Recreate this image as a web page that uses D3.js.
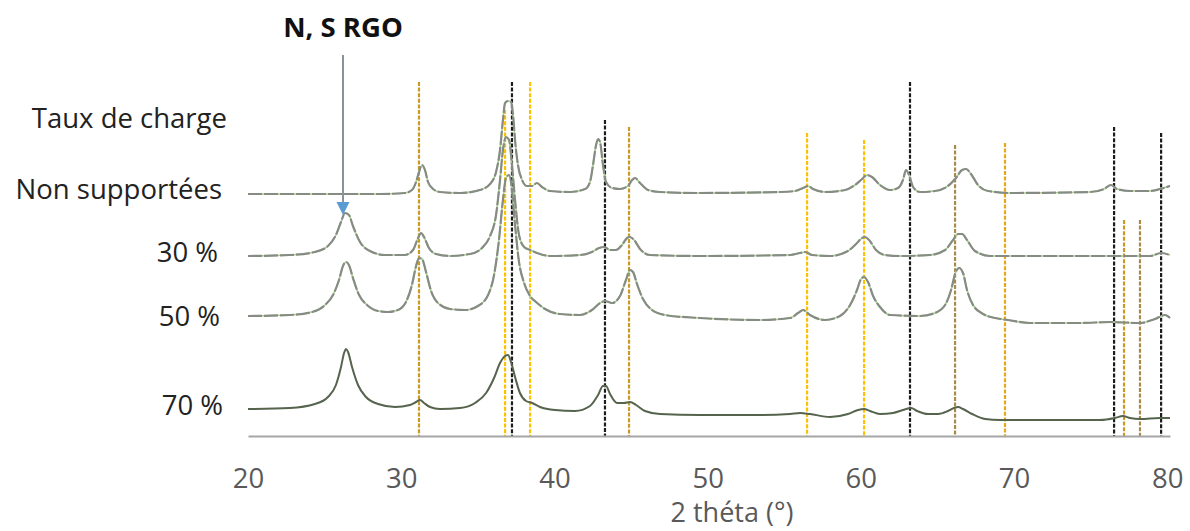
<!DOCTYPE html>
<html>
<head>
<meta charset="utf-8">
<script src="https://cdn.jsdelivr.net/npm/d3@7/dist/d3.min.js"></script>
<style>
  html, body { margin: 0; padding: 0; background: #ffffff; }
  svg { display: block; }
  text { font-family: "Open Sans", "DejaVu Sans", sans-serif; }
</style>
</head>
<body>
<svg id="chart" width="1190" height="531"></svg>
<script>
// ---------------- DATA ----------------
// x-axis tick labels (2 theta, degrees)
const xTicks = [20, 30, 40, 50, 60, 70, 80];

// Series: [2theta (deg), intensity (a.u., stacked offsets)]
const nonSupportees = [
  [20.00,242],[23.39,242],[28.62,242],[30.25,243],[30.70,246],[30.97,254],[31.16,264],[31.36,271],
  [31.55,266],[31.75,254],[32.08,247],[32.53,244],[33.84,243],[35.14,246],[35.80,252],[36.19,264],
  [36.45,286],[36.64,316],[36.78,333],[36.97,335],[37.17,334],[37.30,321],[37.43,296],[37.62,271],
  [37.89,256],[38.21,250],[38.54,250],[38.86,253],[39.19,249],[39.71,245],[41.02,244],[42.00,247],
  [42.32,254],[42.52,271],[42.72,291],[42.85,297],[42.98,294],[43.17,271],[43.37,254],[43.76,248],
  [44.28,247],[44.80,250],[45.07,256],[45.26,258],[45.59,253],[46.11,246],[46.89,244],[49.50,243],
  [54.73,244],[55.71,245],[56.23,248],[56.55,250],[56.88,247],[57.66,244],[58.97,246],[59.62,251],
  [60.08,257],[60.40,261],[60.73,259],[61.25,251],[61.91,246],[62.43,248],[62.75,256],[62.95,266],
  [63.15,261],[63.41,249],[63.86,244],[64.84,245],[65.69,250],[66.21,258],[66.61,266],[66.87,267],
  [67.19,262],[67.65,251],[68.30,245],[69.74,243],[74.96,244],[75.87,247],[76.33,251],[76.72,247],
  [77.57,245],[78.88,245],[79.53,247],[80.18,250]
];
const taux30 = [
  [20.00,180],[22.74,181],[24.37,184],[25.22,190],[25.74,201],[26.07,214],[26.33,223],[26.59,221],
  [26.85,210],[27.31,194],[27.96,185],[28.94,181],[30.25,181],[30.77,186],[31.10,198],[31.29,203],
  [31.49,199],[31.81,188],[32.27,182],[33.19,180],[34.49,182],[35.27,188],[35.80,200],[36.19,221],
  [36.45,256],[36.64,286],[36.84,299],[37.04,296],[37.23,271],[37.43,236],[37.69,201],[38.02,189],
  [38.41,186],[38.86,183],[39.71,180],[41.67,181],[42.45,184],[42.91,188],[43.24,189],[43.63,186],
  [44.02,186],[44.41,191],[44.74,198],[44.93,199],[45.20,196],[45.59,187],[46.24,181],[49.50,180],
  [55.38,181],[56.03,183],[56.36,184],[56.82,181],[57.99,180],[59.16,185],[59.75,193],[60.08,198],
  [60.27,199],[60.54,196],[60.99,186],[61.58,181],[62.56,180],[64.52,181],[65.50,186],[66.02,196],
  [66.35,202],[66.61,202],[66.93,196],[67.45,185],[68.43,180],[75.61,180],[78.88,180],[79.60,183],
  [80.18,181]
];
const taux50 = [
  [20.00,120],[22.74,121],[24.18,124],[25.03,131],[25.55,141],[25.94,156],[26.20,170],[26.40,174],
  [26.59,171],[26.85,158],[27.25,141],[27.77,131],[28.49,125],[29.14,124],[29.79,126],[30.31,134],
  [30.70,151],[30.97,170],[31.16,178],[31.36,177],[31.62,164],[31.95,145],[32.40,133],[33.19,127],
  [34.16,126],[35.01,130],[35.67,141],[36.06,161],[36.38,196],[36.64,236],[36.84,258],[37.04,261],
  [37.23,246],[37.43,211],[37.69,174],[38.02,153],[38.41,140],[38.80,134],[39.39,127],[40.37,122],
  [41.67,121],[42.45,126],[42.98,133],[43.30,135],[43.76,133],[44.28,140],[44.67,156],[44.93,166],
  [45.13,164],[45.39,152],[45.78,137],[46.37,126],[47.22,121],[49.50,118],[53.42,116],[55.38,118],
  [55.90,123],[56.23,126],[56.68,121],[57.66,116],[58.64,120],[59.30,131],[59.75,146],[60.01,157],
  [60.21,159],[60.47,154],[60.80,140],[61.25,129],[61.91,121],[63.86,120],[64.84,123],[65.50,131],
  [65.89,146],[66.15,162],[66.41,168],[66.67,163],[66.93,146],[67.32,131],[67.98,122],[68.76,118],
  [69.61,116],[71.04,113],[74.31,113],[76.27,114],[78.22,113],[79.20,117],[79.86,121],[80.18,118]
];
const taux70 = [
  [20.00,27],[22.74,28],[24.37,32],[25.22,39],[25.74,51],[26.07,69],[26.27,83],[26.40,87],
  [26.53,84],[26.79,69],[27.18,51],[27.70,39],[28.49,32],[29.60,29],[30.57,31],[30.97,34],
  [31.23,36],[31.49,33],[31.88,29],[32.53,27],[33.84,28],[34.82,33],[35.54,43],[36.06,58],
  [36.45,73],[36.78,80],[36.97,81],[37.17,74],[37.43,59],[37.75,43],[38.15,35],[38.54,33],
  [39.06,29],[40.04,26],[41.34,25],[42.32,30],[42.85,41],[43.17,50],[43.37,50],[43.63,42],
  [44.09,33],[44.54,33],[44.93,34],[45.33,31],[45.91,25],[46.89,22],[49.50,21],[53.42,21],
  [55.38,22],[56.03,23],[56.68,22],[57.99,19],[59.16,22],[59.82,26],[60.21,27],[60.60,25],
  [61.25,22],[62.10,23],[62.75,26],[63.28,28],[63.67,25],[64.39,22],[65.04,22],[65.69,25],
  [66.08,28],[66.35,29],[66.67,27],[67.26,22],[68.11,17],[69.09,16],[75.61,16],[76.59,18],
  [77.11,20],[77.57,18],[78.22,17],[79.53,18],[80.18,18]
];

const seriesNames = ["Non supportées", "30 %", "50 %", "70 %"];
const headerLabel = "Taux de charge";

// Reference diffraction lines: position (deg), top (intensity), phase group
const refPos   = [31.16, 36.78, 37.23, 38.41, 43.30, 44.87, 56.49, 60.21, 63.21, 66.15, 69.41, 76.53, 77.18, 78.22, 79.60];
const refTop   = [354,   326,   354,   354,   316,   309,   303,   296,   354,   291,   293,   309,   216,   216,   303];
const refPhase = ["B",   "A",   "C",   "A",   "C",   "B",   "A",   "A",   "C",   "D",   "E",   "C",   "B",   "D",   "C"];

// Annotation
const annotText = "N, S RGO";
const annotX = 26.2;          // 2 theta of the arrow
const annotFrom = 381;        // intensity where the arrow starts
const annotTo = 221;          // intensity of the arrow tip
const axisTitle = "2 théta (°)";

// ---------------- STYLES ----------------
const phaseColor = { A: "#FFC000", B: "#C99A22", C: "#1c1c1c", D: "#A88A4A", E: "#E6A817" };

// ---------------- CHART ----------------
const svg = d3.select("#chart");
const x = d3.scaleLinear().domain([20, 80.18]).range([248, 1170]);
const y = d3.scaleLinear().domain([0, 436]).range([436, 0]);

// reference lines
const refData = refPos.map((p, i) => ({ p, top: refTop[i], ph: refPhase[i] }));
svg.append("g").selectAll("line").data(refData).join("line")
  .attr("x1", d => x(d.p)).attr("x2", d => x(d.p))
  .attr("y1", d => y(d.top)).attr("y2", y(0))
  .attr("stroke", d => phaseColor[d.ph])
  .attr("stroke-width", 2.2)
  .attr("stroke-dasharray", "4 1.6");

// curves
const line = d3.line().x(d => x(d[0])).y(d => y(d[1])).curve(d3.curveMonotoneX);
const lightSeries = [nonSupportees, taux30, taux50];
const gc = svg.append("g");
lightSeries.forEach(s => {
  gc.append("path").datum(s).attr("d", line)
    .attr("fill", "none").attr("stroke", "#a9d18e").attr("stroke-width", 1.6);
  gc.append("path").datum(s).attr("d", line)
    .attr("fill", "none").attr("stroke", "#868c84").attr("stroke-width", 2.2)
    .attr("stroke-dasharray", "14 2");
});
gc.append("path").datum(taux70).attr("d", line)
  .attr("fill", "none").attr("stroke", "#56634d").attr("stroke-width", 2);

// x axis
const xAxis = d3.axisBottom(x).tickValues(xTicks).tickSize(0).tickFormat(d3.format("d"));
const ga = svg.append("g").attr("transform", `translate(0,${y(0)})`).call(xAxis);
ga.select(".domain").attr("stroke", "#a6a6a6").attr("stroke-width", 2.2);
ga.selectAll("text")
  .attr("y", 52).attr("dy", 0)
  .attr("fill", "#595959")
  .style("font-size", "27.5px")
  .style("font-family", "'Open Sans', sans-serif");

svg.append("text")
  .attr("x", 732).attr("y", 522)
  .attr("text-anchor", "middle")
  .attr("fill", "#595959")
  .style("font-size", "27px")
  .text(axisTitle);

// left labels
const labelStyle = [
  { t: headerLabel,    xe: 227, yb: 128 },
  { t: seriesNames[0], xe: 222, yb: 199 },
  { t: seriesNames[1], xe: 218, yb: 262 },
  { t: seriesNames[2], xe: 220, yb: 326 },
  { t: seriesNames[3], xe: 223, yb: 415 }
];
svg.append("g").selectAll("text").data(labelStyle).join("text")
  .attr("x", d => d.xe).attr("y", d => d.yb)
  .attr("text-anchor", "end")
  .attr("fill", "#222222")
  .style("font-size", "27.5px")
  .text(d => d.t);

// annotation arrow
const ax = x(annotX);
svg.append("line")
  .attr("x1", ax).attr("x2", ax)
  .attr("y1", y(annotFrom)).attr("y2", y(annotTo) - 12)
  .attr("stroke", "#8a939c").attr("stroke-width", 2);
svg.append("path")
  .attr("d", `M${ax - 6.5},${y(annotTo) - 13} L${ax + 6.5},${y(annotTo) - 13} L${ax},${y(annotTo)} Z`)
  .attr("fill", "#5b9bd5");
svg.append("text")
  .attr("x", ax).attr("y", 37)
  .attr("text-anchor", "middle")
  .attr("fill", "#111111")
  .style("font-size", "27.5px")
  .style("font-weight", "bold")
  .text(annotText);
</script>
</body>
</html>
